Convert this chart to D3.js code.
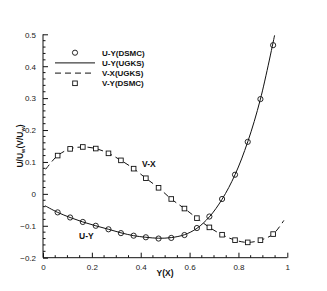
<!DOCTYPE html>
<html>
<head>
<meta charset="utf-8">
<script src="https://cdn.jsdelivr.net/npm/d3@7"></script>
<style>
  body { margin: 0; background: #fff; }
  text { font-family: "Liberation Sans", Arial, sans-serif; }
</style>
</head>
<body>
<main></main>
<script>
// U-Y / V-X velocity profiles, DSMC vs UGKS

// DSMC sample positions
const dsmcX = [0.06, 0.111, 0.163, 0.216, 0.268, 0.319, 0.371, 0.421, 0.473, 0.525, 0.579, 0.63, 0.681, 0.733, 0.786, 0.838, 0.89, 0.942];
// U-Y (DSMC) circles
const uyDsmc = [-0.058, -0.074, -0.088, -0.1, -0.111, -0.123, -0.131, -0.136, -0.14, -0.138, -0.129, -0.107, -0.071, -0.016, 0.06, 0.163, 0.297, 0.466];
// V-Y (DSMC) squares
const vyDsmc = [0.12, 0.141, 0.147, 0.142, 0.127, 0.105, 0.079, 0.049, 0.019, -0.016, -0.046, -0.076, -0.105, -0.128, -0.145, -0.152, -0.145, -0.126];

// UGKS curves
const uyUgksX = [0.008, 0.06, 0.111, 0.163, 0.216, 0.268, 0.319, 0.371, 0.421, 0.473, 0.525, 0.579, 0.63, 0.681, 0.733, 0.786, 0.838, 0.89, 0.948];
const uyUgks = [-0.037, -0.058, -0.074, -0.088, -0.1, -0.111, -0.122, -0.131, -0.136, -0.139, -0.137, -0.128, -0.108, -0.072, -0.017, 0.06, 0.163, 0.297, 0.497];
const vxUgksX = [0.011, 0.06, 0.111, 0.163, 0.216, 0.268, 0.319, 0.371, 0.421, 0.473, 0.525, 0.579, 0.63, 0.681, 0.733, 0.786, 0.838, 0.89, 0.942, 0.986];
const vxUgks = [0.077, 0.12, 0.141, 0.147, 0.142, 0.127, 0.105, 0.079, 0.049, 0.019, -0.016, -0.046, -0.076, -0.105, -0.128, -0.145, -0.152, -0.145, -0.126, -0.083];

const xTicks = [0, 0.2, 0.4, 0.6, 0.8, 1];
const yTicks = [-0.2, -0.1, 0, 0.1, 0.2, 0.3, 0.4, 0.5];
const legendLabels = ["U-Y(DSMC)", "U-Y(UGKS)", "V-X(UGKS)", "V-Y(DSMC)"];

const w = 327, h = 291;

const svg = d3.select("main").append("svg")
  .attr("width", w).attr("height", h);

const x = d3.scaleLinear().domain([0, 1]).range([43, 287.3]);
const y = d3.scaleLinear().domain([-0.2, 0.5]).range([257.7, 34.3]);

const ink = "#111";

//Axes - ticks inward
const xAxis = d3.axisBottom(x).tickValues(xTicks).tickSize(-5).tickPadding(7)
  .tickFormat(d => d === 0 || d === 1 ? d3.format("d")(d) : d3.format(".1f")(d));
const yAxis = d3.axisLeft(y).tickValues(yTicks).tickSize(-5).tickPadding(7)
  .tickFormat(d => d === 0 ? "0" : d3.format(".1f")(d));

const gx = svg.append("g").attr("transform", "translate(0," + y(-0.2) + ")").call(xAxis);
const gy = svg.append("g").attr("transform", "translate(" + x(0) + ",0)").call(yAxis);

[gx, gy].forEach(g => {
  g.select(".domain").attr("d", null);
  g.selectAll(".tick line").attr("stroke", ink).attr("stroke-width", 1);
  g.selectAll(".tick text").attr("fill", "#222").style("font-size", "8px");
});
gy.selectAll(".tick text").attr("dy", "0.35em");

//minor ticks
svg.append("g").selectAll("line")
  .data(d3.range(0, 1.0001, 0.05).filter(v => Math.abs(v * 5 - Math.round(v * 5)) > 1e-6))
  .join("line")
  .attr("x1", d => x(d)).attr("x2", d => x(d))
  .attr("y1", y(-0.2)).attr("y2", y(-0.2) - 2.5)
  .attr("stroke", ink);
svg.append("g").selectAll("line")
  .data(d3.range(-0.2, 0.5001, 0.02).filter(v => Math.abs(v * 10 - Math.round(v * 10)) > 1e-6))
  .join("line")
  .attr("x1", x(0)).attr("x2", x(0) + 2.5)
  .attr("y1", d => y(d)).attr("y2", d => y(d))
  .attr("stroke", ink);

//axis lines
svg.append("line").attr("x1", x(0)).attr("x2", x(1)).attr("y1", y(-0.2)).attr("y2", y(-0.2)).attr("stroke", ink);
svg.append("line").attr("x1", x(0)).attr("x2", x(0)).attr("y1", y(-0.2)).attr("y2", y(0.5)).attr("stroke", ink);

//Curves
const line = d3.line().x(d => x(d[0])).y(d => y(d[1])).curve(d3.curveCatmullRom);

svg.append("path")
  .datum(d3.zip(uyUgksX, uyUgks))
  .attr("d", line)
  .attr("fill", "none").attr("stroke", ink).attr("stroke-width", 1);

svg.append("path")
  .datum(d3.zip(vxUgksX, vxUgks))
  .attr("d", line)
  .attr("fill", "none").attr("stroke", ink).attr("stroke-width", 1)
  .attr("stroke-dasharray", "6,4");

//Markers
svg.append("g").selectAll("circle")
  .data(d3.zip(dsmcX, uyDsmc))
  .join("circle")
  .attr("cx", d => x(d[0])).attr("cy", d => y(d[1])).attr("r", 2.6)
  .attr("fill", "none").attr("stroke", ink).attr("stroke-width", 0.9);

svg.append("g").selectAll("rect")
  .data(d3.zip(dsmcX, vyDsmc))
  .join("rect")
  .attr("x", d => x(d[0]) - 2.3).attr("y", d => y(d[1]) - 2.3)
  .attr("width", 4.6).attr("height", 4.6)
  .attr("fill", "white").attr("stroke", ink).attr("stroke-width", 0.9);

//Legend
const legend = svg.append("g").attr("transform", "translate(55,52.7)");
legendLabels.forEach((lab, i) => {
  const ly = i * 10.2;
  if (i === 0) legend.append("circle").attr("cx", 20).attr("cy", ly).attr("r", 2.6)
    .attr("fill", "none").attr("stroke", ink).attr("stroke-width", 0.9);
  if (i === 1) legend.append("line").attr("x1", 0).attr("x2", 40).attr("y1", ly).attr("y2", ly).attr("stroke", ink);
  if (i === 2) legend.append("line").attr("x1", 0).attr("x2", 40).attr("y1", ly).attr("y2", ly)
    .attr("stroke", ink).attr("stroke-dasharray", "6,4");
  if (i === 3) legend.append("rect").attr("x", 17.7).attr("y", ly - 2.3).attr("width", 4.6).attr("height", 4.6)
    .attr("fill", "white").attr("stroke", ink).attr("stroke-width", 0.9);
  legend.append("text").attr("x", 47).attr("y", ly).attr("dy", "0.35em")
    .style("font-size", "8px").style("font-weight", "bold").attr("fill", ink).text(lab);
});

//Curve labels
svg.append("text").attr("x", 142).attr("y", 167).style("font-size", "8.5px").style("font-weight", "bold").attr("fill", ink).text("V-X");
svg.append("text").attr("x", 79).attr("y", 239).style("font-size", "8.5px").style("font-weight", "bold").attr("fill", ink).text("U-Y");

//Axis titles
svg.append("text").attr("x", 165).attr("y", 276).attr("text-anchor", "middle")
  .style("font-size", "8.5px").style("font-weight", "bold").attr("fill", ink).text("Y(X)");

const yt = svg.append("text").attr("transform", "translate(23,146) rotate(-90)").attr("text-anchor", "middle")
  .style("font-size", "8.5px").style("font-weight", "bold").attr("fill", ink);
yt.append("tspan").text("U/U");
yt.append("tspan").attr("dy", 2).style("font-size", "5.5px").text("w");
yt.append("tspan").attr("dy", -2).text("(V/U");
yt.append("tspan").attr("dy", 2).style("font-size", "5.5px").text("w");
yt.append("tspan").attr("dy", -2).text(")");
</script>
</body>
</html>
